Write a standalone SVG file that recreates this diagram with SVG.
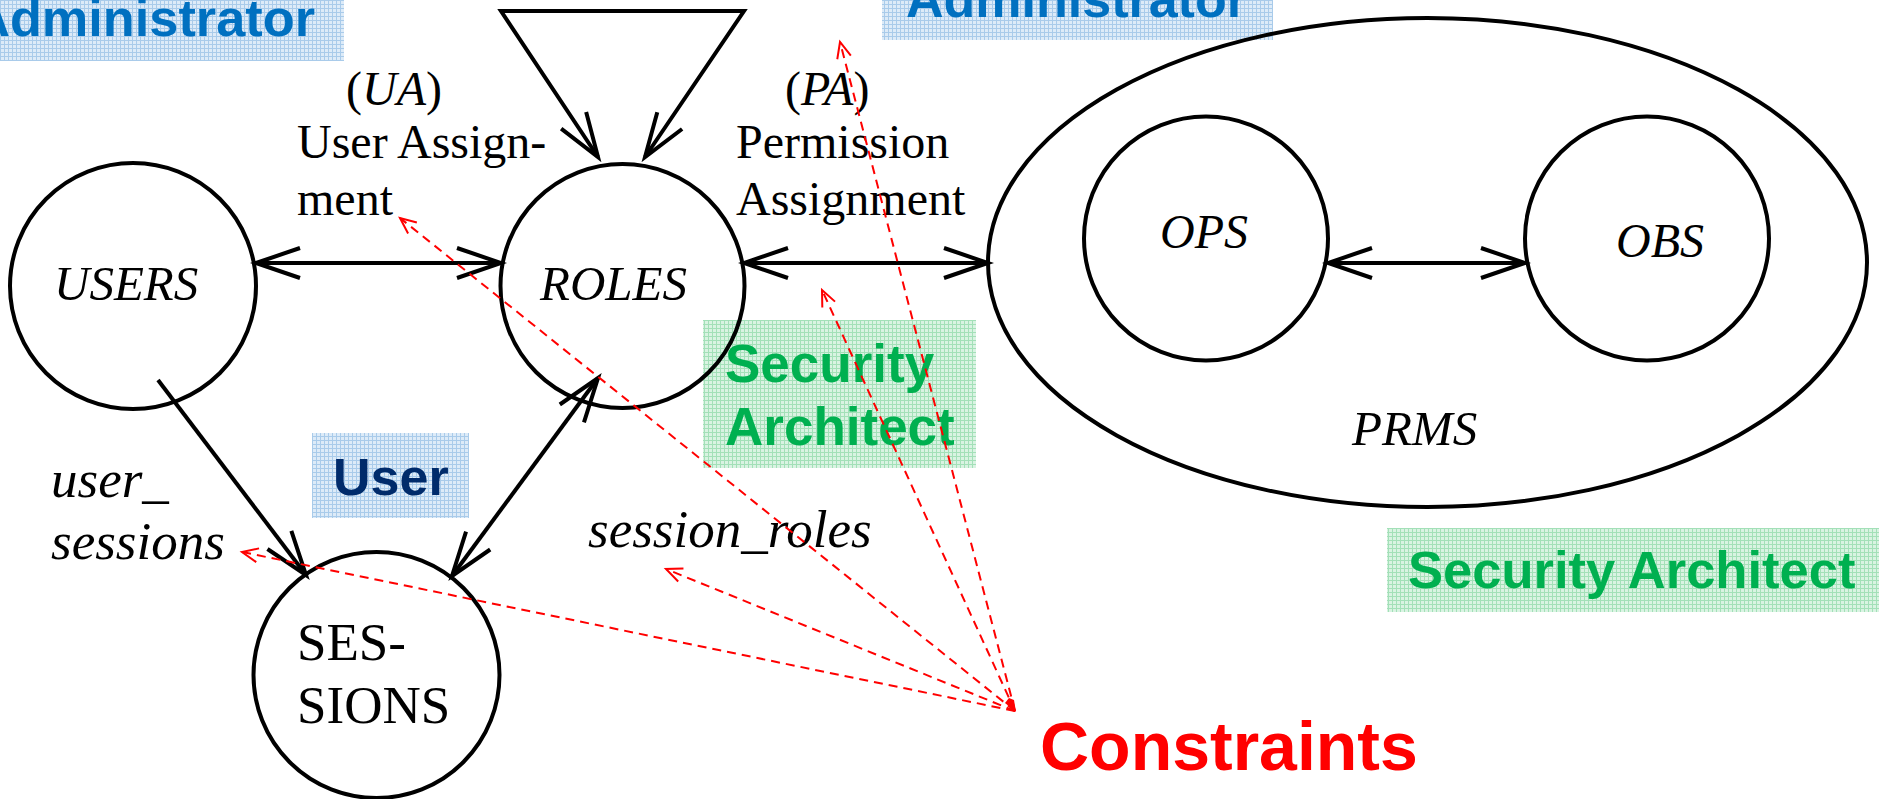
<svg xmlns="http://www.w3.org/2000/svg" width="1879" height="799" viewBox="0 0 1879 799">
  <defs>
    <style>
      .node { fill: none; stroke: #000; stroke-width: 4; }
      .serif { font-family: "Liberation Serif", "Times New Roman", serif; fill: #000; }
      .it { font-style: italic; }
      .role { font-family: "Liberation Sans", Arial, sans-serif; font-weight: bold; }
      .admin { fill: #0070C0; }
      .arch { fill: #00B050; }
      .user { fill: #002B6B; }
      .link { fill: none; stroke: #000; stroke-width: 4; stroke-linejoin: miter; }
      .constraint { fill: none; stroke: #FF0000; stroke-width: 2; stroke-dasharray: 9 6; }
    </style>
    <pattern id="blueGrid" width="4" height="4" patternUnits="userSpaceOnUse">
      <rect width="4" height="4" fill="#DDEBF8"/>
      <path d="M0 0.5H4M0.5 0V4" stroke="#A9CBEA" stroke-width="1"/>
    </pattern>
    <pattern id="greenGrid" width="4" height="4" patternUnits="userSpaceOnUse">
      <rect width="4" height="4" fill="#D9F3E2"/>
      <path d="M0 0.5H4M0.5 0V4" stroke="#A3E0B8" stroke-width="1"/>
    </pattern>
    <marker id="openArrow" viewBox="-50 -20 56 40" refX="0" refY="0" markerWidth="56" markerHeight="40" markerUnits="userSpaceOnUse" orient="auto-start-reverse">
      <path d="M-44,-15 L0,0 L-44,15" fill="none" stroke="#000" stroke-width="4"/>
    </marker>
    <marker id="redArrow" viewBox="-20 -10 24 20" refX="0" refY="0" markerWidth="24" markerHeight="20" markerUnits="userSpaceOnUse" orient="auto">
      <path d="M-16,-7 L0,0 L-16,7" fill="none" stroke="#FF0000" stroke-width="2"/>
    </marker>
  </defs>

  <rect width="1879" height="799" fill="#FFFFFF"/>

  <!-- role labels -->
  <g id="admin-ua">
    <rect x="0" y="0" width="344" height="61" fill="url(#blueGrid)"/>
    <text class="role admin" x="315" y="36" font-size="52.3" text-anchor="end">Administrator</text>
  </g>
  <g id="admin-pa">
    <rect x="882" y="0" width="391" height="40" fill="url(#blueGrid)"/>
    <text class="role admin" x="906" y="17" font-size="52">Administrator</text>
  </g>
  <g id="architect-mid">
    <rect x="703" y="320" width="273" height="148" fill="url(#greenGrid)"/>
    <text class="role arch" x="725" y="382" font-size="53">Security</text>
    <text class="role arch" x="725" y="445" font-size="53">Architect</text>
  </g>
  <g id="architect-right">
    <rect x="1387" y="528" width="492" height="84" fill="url(#greenGrid)"/>
    <text class="role arch" x="1408" y="588" font-size="52.5">Security Architect</text>
  </g>
  <g id="user-role">
    <rect x="312" y="433" width="157" height="85" fill="url(#blueGrid)"/>
    <text class="role user" x="333" y="495" font-size="52">User</text>
  </g>

  <!-- entity sets -->
  <g id="users">
    <circle class="node" cx="133" cy="286" r="123"/>
    <text class="serif it" x="54" y="300" font-size="49">USERS</text>
  </g>
  <g id="roles">
    <circle class="node" cx="622.5" cy="286" r="122"/>
    <text class="serif it" x="540" y="300" font-size="49">ROLES</text>
  </g>
  <g id="sessions">
    <circle class="node" cx="376.5" cy="675" r="123"/>
    <text class="serif" x="297" y="660" font-size="53">SES-</text>
    <text class="serif" x="297" y="723" font-size="53">SIONS</text>
  </g>
  <g id="prms">
    <ellipse class="node" cx="1427.5" cy="262.5" rx="439.5" ry="244.5"/>
    <text class="serif it" x="1352" y="445" font-size="49">PRMS</text>
  </g>
  <g id="ops">
    <circle class="node" cx="1206" cy="238.5" r="122"/>
    <text class="serif it" x="1160" y="248" font-size="48">OPS</text>
  </g>
  <g id="obs">
    <circle class="node" cx="1647" cy="238.5" r="122"/>
    <text class="serif it" x="1616" y="257" font-size="48">OBS</text>
  </g>

  <!-- relation labels -->
  <g id="ua-label" class="serif" font-size="48">
    <text x="346" y="105">(<tspan class="it">UA</tspan>)</text>
    <text x="297" y="158">User Assign-</text>
    <text x="297" y="215">ment</text>
  </g>
  <g id="pa-label" class="serif" font-size="48">
    <text x="785" y="105">(<tspan class="it">PA</tspan>)</text>
    <text x="736" y="158">Permission</text>
    <text x="736" y="215">Assignment</text>
  </g>
  <g id="user-sessions-label" class="serif it" font-size="53">
    <text x="51" y="497">user_</text>
    <text x="51" y="559">sessions</text>
  </g>
  <g id="session-roles-label">
    <text class="serif it" x="588" y="547" font-size="53">session_roles</text>
  </g>
  <g id="constraints">
    <text class="role" x="1040" y="770" font-size="68" fill="#FF0000">Constraints</text>
  </g>

  <!-- connectors -->
  <g id="connectors">
    <polyline class="link" points="598,157 501,11 744,11 645,157" marker-start="url(#openArrow)" marker-end="url(#openArrow)"/>
    <line class="link" x1="256" y1="263" x2="501" y2="263" marker-start="url(#openArrow)" marker-end="url(#openArrow)"/>
    <line class="link" x1="744" y1="263" x2="988" y2="263" marker-start="url(#openArrow)" marker-end="url(#openArrow)"/>
    <line class="link" x1="1328" y1="263" x2="1525" y2="263" marker-start="url(#openArrow)" marker-end="url(#openArrow)"/>
    <line class="link" x1="158" y1="380" x2="306" y2="575" marker-end="url(#openArrow)"/>
    <line class="link" x1="598" y1="378" x2="452" y2="576" marker-start="url(#openArrow)" marker-end="url(#openArrow)"/>

    <line class="constraint" x1="1015" y1="711" x2="400" y2="218" marker-end="url(#redArrow)"/>
    <line class="constraint" x1="1015" y1="711" x2="840" y2="42" marker-end="url(#redArrow)"/>
    <line class="constraint" x1="1015" y1="711" x2="822" y2="290" marker-end="url(#redArrow)"/>
    <line class="constraint" x1="1015" y1="711" x2="242" y2="552" marker-end="url(#redArrow)"/>
    <line class="constraint" x1="1015" y1="711" x2="666" y2="569" marker-end="url(#redArrow)"/>
    <!-- shared origin of the constraint rays -->
    <polygon points="1016,712 1005,703 1009,698 1014,700" fill="#FF0000"/>
  </g>
</svg>
